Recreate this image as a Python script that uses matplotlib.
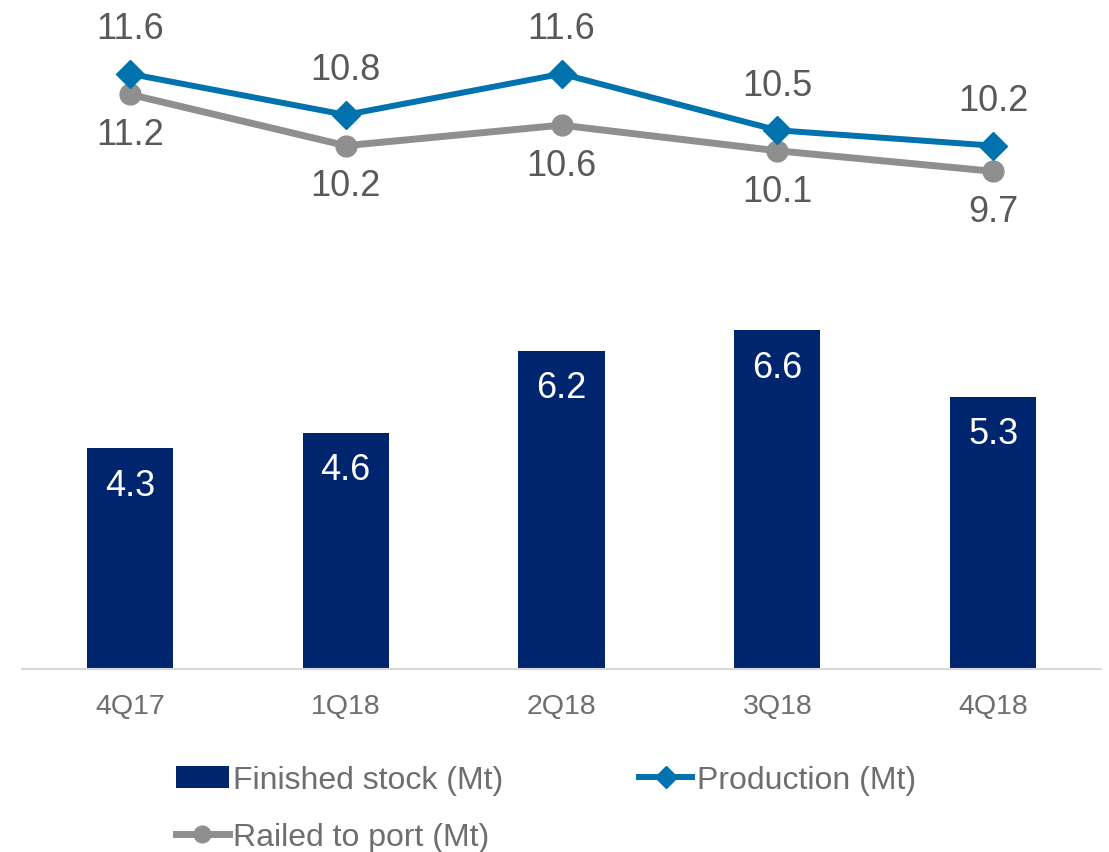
import matplotlib.pyplot as plt
import numpy as np

plt.rcParams['font.family'] = ['Liberation Sans', 'DejaVu Sans']

# Quarterly data (Mt)
quarters = ['4Q17', '1Q18', '2Q18', '3Q18', '4Q18']
finished_stock = [4.3, 4.6, 6.2, 6.6, 5.3]
production = [11.6, 10.8, 11.6, 10.5, 10.2]
railed = [11.2, 10.2, 10.6, 10.1, 9.7]

navy = '#00256F'
blue = '#0072AE'
grey = '#8F8F8F'
text_grey = '#595959'
light_text = '#6E6E6E'

fig = plt.figure(figsize=(11.09, 8.53), dpi=100)
ax = fig.add_axes([22 / 1109, 1 - 670 / 853, 1079 / 1109, 667 / 853])

x = np.arange(len(quarters))

bars = ax.bar(x, finished_stock, width=0.4, color=navy, label='Finished stock (Mt)', zorder=2)
l_rail, = ax.plot(x, railed, color=grey, lw=5, marker='o', markersize=15,
                  label='Railed to port (Mt)', zorder=3)
l_prod, = ax.plot(x, production, color=blue, lw=4.3, marker='D', markersize=14,
                  label='Production (Mt)', zorder=4)

# value labels
for xi, v in zip(x, finished_stock):
    ax.annotate(f'{v:.1f}', (xi, v), xytext=(0, -26.5), textcoords='offset points',
                ha='center', va='center', color='white', fontsize=26)
for xi, v in zip(x, production):
    ax.annotate(f'{v:.1f}', (xi, v), xytext=(0, 32.5), textcoords='offset points',
                ha='center', va='center', color=text_grey, fontsize=26)
for xi, v in zip(x, railed):
    ax.annotate(f'{v:.1f}', (xi, v), xytext=(0, -29), textcoords='offset points',
                ha='center', va='center', color=text_grey, fontsize=26)

ax.set_xlim(-0.5, 4.5)
ax.set_ylim(0, 13)
ax.set_xticks(x)
ax.set_xticklabels(quarters, fontsize=20.5, color=light_text)
ax.tick_params(axis='x', length=0, pad=17)
ax.set_yticks([])
for side in ['top', 'right', 'left']:
    ax.spines[side].set_visible(False)
ax.spines['bottom'].set_color('#D9D9D9')
ax.spines['bottom'].set_linewidth(1.5)

fig.legend([bars, l_rail, l_prod],
           ['Finished stock (Mt)', 'Railed to port (Mt)', 'Production (Mt)'],
           ncol=2, loc='upper left', bbox_to_anchor=(160 / 1109, 1 - 750 / 853),
           frameon=False, fontsize=23, labelcolor=light_text, borderpad=0,
           handlelength=1.65, handletextpad=0.15, columnspacing=4.25,
           labelspacing=0.85, markerscale=0.8)

fig.savefig('out.png', dpi=100)
